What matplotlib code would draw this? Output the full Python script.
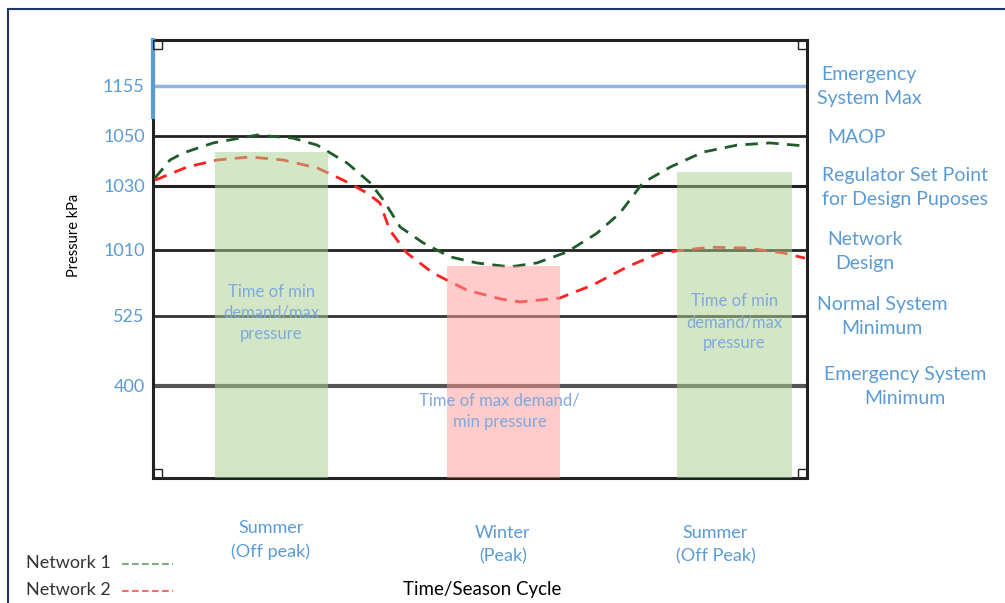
import numpy as np
import matplotlib
matplotlib.use("Agg")
import matplotlib.pyplot as plt
from matplotlib.patches import Rectangle
from matplotlib.lines import Line2D

plt.rcParams['font.family'] = ['Lato', 'DejaVu Sans']

# pressure levels (schematic, not to scale) - position in % of axis height
level_labels = ['1155', '1050', '1030', '1010', '525', '400']
level_pos = [89.6, 78.1, 66.7, 52.1, 37.1, 21.1]
level_names = ['Emergency\nSystem Max', 'MAOP', 'Regulator Set Point\nfor Design Puposes',
               'Network\nDesign', 'Normal System\nMinimum', 'Emergency System\nMinimum']

# seasonal bands (x in % of cycle)
band_center = [18.1, 53.6, 88.9]
band_width = [17.3, 17.3, 17.6]
band_top = [74.4, 48.5, 69.9]
band_text = ['Time of min\ndemand/max\npressure', 'Time of max demand/\nmin pressure',
             'Time of min\ndemand/max\npressure']
season_labels = ['Summer\n(Off peak)', 'Winter\n(Peak)', 'Summer\n(Off Peak)']

# pressure traces
net1_x = [0.3, 2.6, 4.6, 9.2, 15.9, 21.4, 25.1, 29.7, 33.2, 35.2, 37.8, 41.3, 45.4,
          49.5, 54.6, 58.7, 63.3, 67.9, 71.4, 74.9, 79.1, 84.1, 89.3, 94.3, 99.7]
net1_y = [68.5, 72.6, 74.2, 76.5, 78.3, 77.6, 76.0, 71.9, 67.4, 63.5, 57.3, 53.7, 50.5,
          49.1, 48.2, 49.1, 51.6, 55.9, 60.5, 67.4, 71.0, 74.4, 76.0, 76.5, 75.8]
net2_x = [0.3, 5.2, 9.8, 14.8, 19.9, 25.1, 29.1, 32.7, 34.7, 36.2, 38.8, 42.8, 48.0,
          53.1, 56.1, 62.2, 67.3, 72.5, 77.5, 85.2, 90.8, 96.3, 99.7]
net2_y = [68.0, 71.0, 72.6, 73.3, 72.6, 70.8, 68.0, 65.1, 62.8, 56.6, 51.4, 46.8, 42.9,
          40.9, 40.2, 41.1, 44.1, 48.2, 51.4, 52.7, 52.5, 51.4, 50.2]

blue = '#5b9bd5'
blue_light = '#7fa8dc'
green = '#1f5c2a'
red = '#ff2020'

fig = plt.figure(figsize=(10.05, 6.03), dpi=100)
ax = fig.add_axes([153/1005, 1 - 478/603, 654/1005, 438/603])
ax.set_xlim(0, 100)
ax.set_ylim(0, 100)

# level lines
line_cols = ['#8db4e2', '#222222', '#222222', '#222222', '#333333', '#555555']
line_w = [2.5, 2, 2.2, 2, 2, 3]
for p, c, w in zip(level_pos, line_cols, line_w):
    ax.axhline(p, color=c, lw=w, zorder=2)

ax.plot(net1_x, net1_y, color=green, lw=2, dashes=(4.5, 3), zorder=3)
ax.plot(net2_x, net2_y, color=red, lw=2, dashes=(4.5, 3), zorder=3)

band_cols = ['#a9d18e', '#ff9999', '#a9d18e']
ax.bar(band_center, band_top, width=band_width, color=band_cols, alpha=0.5, zorder=4)

for xc, txt, yc in zip(band_center, band_text, [37.7, 15.3, 35.6]):
    ax.text(xc - (0.6 if yc < 20 else 0), yc, txt, color=blue_light, fontsize=12,
            ha='center', va='center', linespacing=1.4, zorder=5)

ax.set_yticks(level_pos)
ax.set_yticklabels(level_labels, color=blue, fontsize=13)
ax.set_xticks([])
ax.tick_params(axis='y', length=0, pad=6)
ax.set_ylabel('Pressure kPa', fontsize=10.5)
ax.yaxis.set_label_coords(-0.110, 0.553)

for s in ax.spines.values():
    s.set_linewidth(2.2)
    s.set_color('#222222')
ax.plot([0, 0], [82.4, 100], color=blue, lw=3, zorder=6, clip_on=False)

# little corner handles
for cx, cy in [(0, 0), (1, 0), (0, 1), (1, 1)]:
    ax.add_patch(Rectangle((cx - 0.013 * cx, cy - 0.02 * cy), 0.013, 0.02,
                           transform=ax.transAxes, fill=False, lw=1, ec='#222222', zorder=6))

# right-hand descriptions
right_x = [1.095, 1.075, 1.150, 1.089, 1.115, 1.150]
for name, p, rx in zip(level_names, level_pos, right_x):
    ax.text(rx, p - 0.3, name, transform=ax.get_yaxis_transform(), color=blue, fontsize=14,
            ha='center', va='center', linespacing=1.5, clip_on=False)

# season labels under the bands
for xc, txt, yy in zip([18.0, 53.5, 86.0], season_labels, [-14.2, -15.3, -15.3]):
    ax.text(xc, yy, txt, color=blue, fontsize=13, ha='center', va='center',
            linespacing=1.55, clip_on=False)

fig.text(482/1005, 1 - 590/603, 'Time/Season Cycle', fontsize=13.5, ha='center', va='center')

# hand-made legend
for i, (lab, col) in enumerate([('Network 1', '#7fae7f'), ('Network 2', '#ff6b6b')]):
    yy = 1 - (563 + 27 * i) / 603
    fig.text(26/1005, yy, lab, fontsize=13, ha='left', va='center', color='#333333')
    fig.add_artist(Line2D([122/1005, 173/1005], [yy - 0.002, yy - 0.002], color=col,
                          lw=1.5, dashes=(3.2, 1.6)))

# outer frame
fig.add_artist(Line2D([8/1005, 8/1005], [0, 1 - 9/603], color='#1f3864', lw=1.5))
fig.add_artist(Line2D([8/1005, 1], [1 - 9/603, 1 - 9/603], color='#1f3864', lw=1.5))

fig.savefig('out.png', dpi=100)
